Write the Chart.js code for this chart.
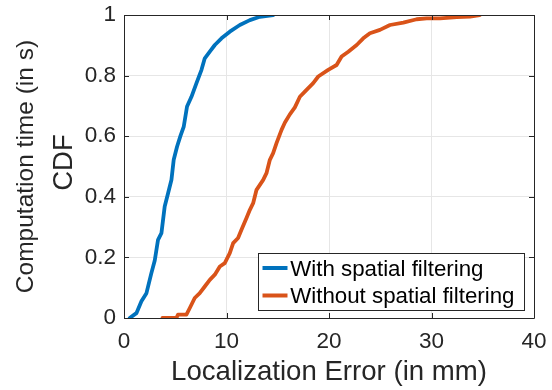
<!DOCTYPE html>
<html><head><meta charset="utf-8">
<script src="https://cdn.jsdelivr.net/npm/chart.js@4"></script>
<style>html,body{margin:0;padding:0;background:#fff}#wrap{width:552px;height:390px}</style>
</head><body><div id="wrap"><canvas id="c" width="552" height="390"></canvas></div>
<script>
const seriesNames = ["With spatial filtering", "Without spatial filtering"];
const withX = [0.56,1.21,1.7,2.19,2.67,3.0,3.32,3.65,3.97,4.3,4.63,4.85,5.18,5.5,5.83,6.15,6.58,7.07,7.56,7.88,8.37,8.86,9.51,10.32,11.3,12.28,13.25,14.55];
const withY = [0,0.016,0.055,0.082,0.148,0.19,0.258,0.28,0.368,0.412,0.456,0.522,0.566,0.6,0.632,0.698,0.73,0.775,0.819,0.857,0.879,0.901,0.923,0.945,0.967,0.983,0.994,1.0];
const withoutX = [3.75,5.11,5.27,6.09,6.42,6.9,7.39,7.88,8.37,8.86,9.35,9.83,10.32,10.65,11.13,11.46,11.95,12.28,12.6,12.93,13.58,13.9,14.23,14.55,14.88,15.37,15.7,16.18,16.67,17.16,17.81,18.46,18.95,19.92,20.74,21.23,21.88,22.7,23.34,23.99,24.97,25.95,27.25,28.55,29.53,30.83,32.46,33.76,34.7];
const withoutY = [0,0,0.011,0.011,0.033,0.066,0.082,0.104,0.126,0.143,0.17,0.181,0.214,0.247,0.264,0.291,0.33,0.357,0.379,0.423,0.456,0.478,0.522,0.544,0.577,0.621,0.645,0.672,0.695,0.73,0.753,0.775,0.797,0.819,0.835,0.863,0.879,0.901,0.923,0.94,0.951,0.967,0.975,0.986,0.989,0.989,0.993,0.995,1.0];
const xTicks = [0,10,20,30,40];
const xTickLabels = ["0","10","20","30","40"];
const yTicks = [0,0.2,0.4,0.6,0.8,1];
const yTickLabels = ["0","0.2","0.4","0.6","0.8","1"];
const xTitle = "Localization Error (in mm)";
const yTitle = "Computation time (in s)";
const yTitle2 = "CDF";

const FONT = "'Liberation Sans', Arial, Helvetica, sans-serif";
const TXT = "#262626";
const colors = ["#0072BD", "#D95319"];

const toPts = (xs, ys) => xs.map((x, i) => ({x, y: ys[i]}));

const boxPlugin = {
  id: 'boxTicks',
  afterDatasetsDraw(chart) {
    const {ctx, chartArea: a, scales: {x, y}} = chart;
    ctx.save();
    ctx.strokeStyle = TXT;
    ctx.lineWidth = 1;
    ctx.beginPath();
    ctx.rect(Math.round(a.left) + 0.5, Math.round(a.top) + 0.5, Math.round(a.right - a.left), Math.round(a.bottom - a.top));
    ctx.stroke();
    const L = 5;
    ctx.beginPath();
    xTicks.forEach(v => {
      const px = Math.round(x.getPixelForValue(v)) + 0.5;
      ctx.moveTo(px, a.bottom); ctx.lineTo(px, a.bottom - L);
      ctx.moveTo(px, a.top); ctx.lineTo(px, a.top + L);
    });
    yTicks.forEach(v => {
      const py = Math.round(y.getPixelForValue(v)) + 0.5;
      ctx.moveTo(a.left, py); ctx.lineTo(a.left + L, py);
      ctx.moveTo(a.right, py); ctx.lineTo(a.right - L, py);
    });
    ctx.stroke();
    ctx.restore();
  },
  afterDraw(chart) {
    const {ctx, chartArea: a} = chart;
    ctx.save();
    // second y-axis title line
    ctx.font = "27.5px " + FONT;
    ctx.fillStyle = TXT;
    ctx.textAlign = "center";
    ctx.textBaseline = "middle";
    ctx.translate(64, (a.top + a.bottom) / 2 - 4);
    ctx.rotate(-Math.PI / 2);
    ctx.fillText(yTitle2, 0, 0);
    ctx.restore();

    ctx.save();
    ctx.font = "22.3px " + FONT;
    const tw = Math.max(...chart.data.datasets.map(d => ctx.measureText(d.label).width));
    const w = 4 + 25 + 2.7 + tw + 10, h = 57;
    const x0 = Math.round(a.right - 9.5 - w) + 0.5, y0 = Math.round(a.bottom - 8 - h) + 0.5;
    ctx.fillStyle = "#fff";
    ctx.fillRect(x0, y0, w, h);
    ctx.strokeStyle = TXT;
    ctx.lineWidth = 1;
    ctx.strokeRect(x0, y0, w, h);
    chart.data.datasets.forEach((d, i) => {
      const cy = y0 + 14.5 + i * 27.5;
      ctx.strokeStyle = d.borderColor;
      ctx.lineWidth = 4;
      ctx.beginPath();
      ctx.moveTo(x0 + 4, cy); ctx.lineTo(x0 + 29, cy);
      ctx.stroke();
      ctx.fillStyle = "#000";
      ctx.textBaseline = "middle";
      ctx.textAlign = "left";
      ctx.fillText(d.label, x0 + 31.7, cy + 1.5);
    });
    ctx.restore();
  }
};

new Chart(document.getElementById('c'), {
  type: 'line',
  data: {
    datasets: [
      {label: seriesNames[0], data: toPts(withX, withY), borderColor: colors[0], backgroundColor: colors[0]},
      {label: seriesNames[1], data: toPts(withoutX, withoutY), borderColor: colors[1], backgroundColor: colors[1]}
    ]
  },
  options: {
    responsive: false,
    animation: false,
    layout: {padding: {left: 0, top: 15, right: 18, bottom: 0}},
    elements: {
      line: {borderWidth: 3.8, tension: 0, borderJoinStyle: 'round', borderCapStyle: 'round'},
      point: {radius: 0, hoverRadius: 0}
    },
    plugins: {legend: {display: false}, tooltip: {enabled: false}},
    scales: {
      x: {
        type: 'linear', min: 0, max: 40,
        afterBuildTicks: s => { s.ticks = xTicks.map(v => ({value: v})); },
        afterFit: s => { s.height = 72; s.paddingLeft = 0; s.paddingRight = 0; },
        grid: {color: '#e6e6e6', lineWidth: 1, drawTicks: false},
        border: {display: false},
        ticks: {color: TXT, font: {family: FONT, size: 22.5}, padding: 10, maxRotation: 0,
          callback: (v, i) => xTickLabels[i]},
        title: {display: true, text: xTitle, color: TXT, font: {family: FONT, size: 27.6}, padding: {top: 0, bottom: 1}}
      },
      y: {
        type: 'linear', min: 0, max: 1,
        afterBuildTicks: s => { s.ticks = yTicks.map(v => ({value: v})); },
        afterFit: s => { s.width = 124; s.paddingTop = 0; s.paddingBottom = 0; },
        grid: {color: '#e6e6e6', lineWidth: 1, drawTicks: false},
        border: {display: false},
        ticks: {color: TXT, font: {family: FONT, size: 22.5}, padding: 8,
          callback: (v, i) => yTickLabels[i]},
        title: {display: true, text: yTitle, color: TXT, font: {family: FONT, size: 24.5, lineHeight: 1.2}, padding: {top: 12, bottom: 0}}
      }
    }
  },
  plugins: [boxPlugin]
});
</script>
</body></html>
